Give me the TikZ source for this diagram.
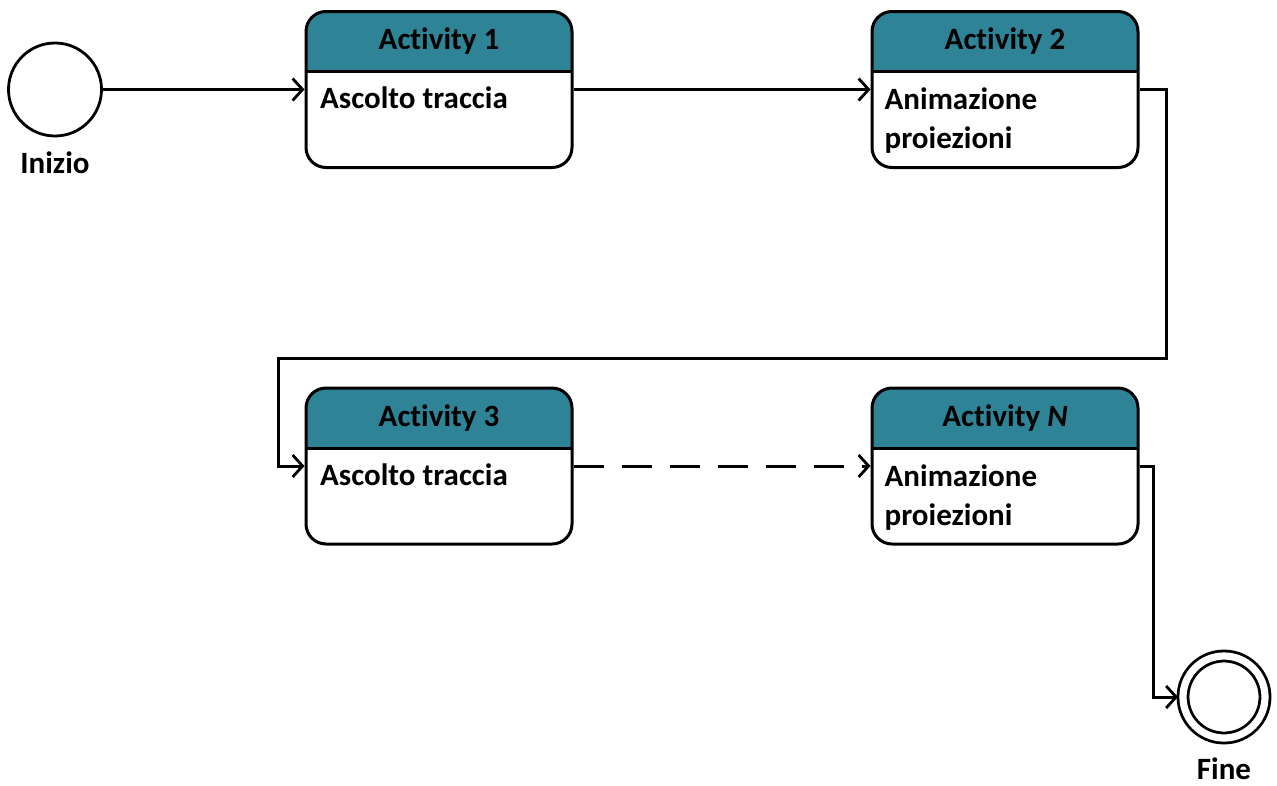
\documentclass[tikz,border=0pt]{standalone}
\usepackage{fontspec}
\setmainfont{Carlito}[Ligatures=CommonOff]
\usetikzlibrary{arrows.meta}
\definecolor{headteal}{RGB}{46,131,150}
\begin{document}
\begin{tikzpicture}[x=1pt,y=-1pt,
  every node/.style={font=\fontsize{31}{39}\selectfont\bfseries, text=black},
  act/.style={draw, line width=3pt, rounded corners=20pt, fill=white,
    minimum width=266pt, minimum height=156pt, inner sep=0pt,
    path picture={
      \fill[headteal, sharp corners]
        (path picture bounding box.north west) rectangle
        ([yshift=-60pt]path picture bounding box.north east);
      \draw[line width=3pt, sharp corners]
        ([yshift=-60pt]path picture bounding box.north west) --
        ([yshift=-60pt]path picture bounding box.north east);
    }},
  headtxt/.style={anchor=base, inner sep=0pt},
  bodytxt/.style={anchor=base west, align=left, inner sep=0pt},
  initial/.style={circle, draw, line width=2.8pt, minimum size=93pt, inner sep=0pt},
  final/.style={circle, draw, line width=2.8pt, double, double distance=7.2pt,
    minimum size=82pt, inner sep=0pt, outer sep=5pt},
  lbl/.style={anchor=base, inner sep=0pt},
  flow/.style={line width=3pt,
    -{Straight Barb[length=10pt, width=22pt, line width=2.8pt]}},
]
\useasboundingbox (0,0) rectangle (1277,785);

% start and end states
\node[initial] (ini) at (55,89.5) {};
\node[lbl] (inilbl) at ([yshift=-36pt]ini.south) {Inizio};
\node[final] (fin) at (1224,697) {};
\node[lbl] (finlbl) at ([yshift=-36pt]fin.south) {Fine};

% activities
\node[act] (a1) at (439,89.5) {};
\node[act] (a2) at (1005,89.5) {};
\node[act] (a3) at (439,466) {};
\node[act] (aN) at (1005,466) {};

\node[headtxt] (a1h) at ([yshift=-39.5pt]a1.north) {Activity 1};
\node[headtxt] (a2h) at ([yshift=-39.5pt]a2.north) {Activity 2};
\node[headtxt] (a3h) at ([yshift=-39.5pt]a3.north) {Activity 3};
\node[headtxt] (aNh) at ([yshift=-39.5pt]aN.north) {Activity {\itshape N}};

% body texts (base anchor sits on the last line)
\node[bodytxt] (a1b) at ([xshift=15.5pt,yshift=-98.5pt]a1.north west) {Ascolto traccia};
\node[bodytxt] (a2b) at ([xshift=14pt,yshift=-138.5pt]a2.north west) {Animazione\\proiezioni};
\node[bodytxt] (a3b) at ([xshift=15.5pt,yshift=-98.5pt]a3.north west) {Ascolto traccia};
\node[bodytxt] (aNb) at ([xshift=14pt,yshift=-138.5pt]aN.north west) {Animazione\\proiezioni};

% routing points of the return connector
\coordinate (r2) at (1166,358);
\coordinate (l3) at (278,358);

% connectors
\draw[flow] (ini.east) -- (a1.west);
\draw[flow] (a1.east) -- (a2.west);
\draw[flow] (a2.east) -| (r2) -- (l3) |- (a3.west);
\draw[flow, dash pattern=on 30pt off 18pt] (a3.east) -- (aN.west);
\draw[flow] (aN.east) -- ++(14,0) |- (fin.west);
\end{tikzpicture}
\end{document}
